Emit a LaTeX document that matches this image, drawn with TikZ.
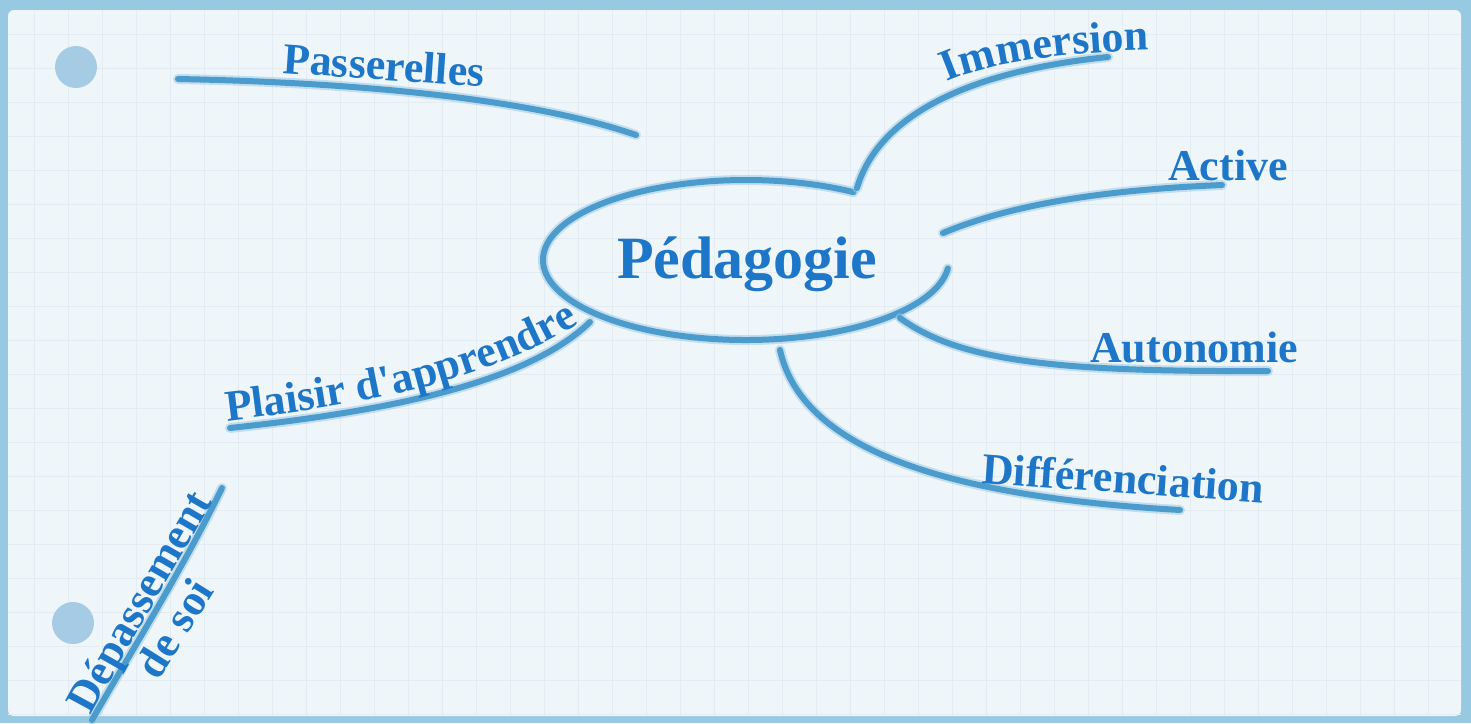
\documentclass[tikz,border=0pt]{standalone}
\usepackage{fontspec}
\setmainfont{Liberation Serif}[Ligatures=TeXOff]
\usetikzlibrary{decorations.text,shapes.geometric}
\definecolor{framec}{RGB}{152,201,227}
\definecolor{paperc}{RGB}{239,246,250}
\definecolor{gridc}{RGB}{226,236,242}
\definecolor{holec}{RGB}{165,204,228}
\definecolor{ink}{RGB}{30,118,200}
\definecolor{chalk}{RGB}{76,155,205}
\definecolor{chalklt}{RGB}{150,200,228}
\tikzset{
  lbl/.style={text=ink, font=\bfseries\fontsize{44}{50}\selectfont, inner sep=0pt},
  chalkline/.style={preaction={draw=chalklt, line width=10pt, line cap=round, opacity=0.5},
                    draw=chalk, line width=6pt, line cap=round},
  pathtext/.style={decorate, decoration={text along path, text align=left,
                    text={|\color{ink}\bfseries\fontsize{44}{50}\selectfont|#1}}},
}
\begin{document}
\begin{tikzpicture}[x=1pt,y=-1pt]
\useasboundingbox (0,0) rectangle (1471,723);
% frame and paper
\fill[framec] (0,0) rectangle (1471,723);
\fill[paperc, rounded corners=6pt] (8,10) rectangle (1461,716);
\begin{scope}
  \clip (8,10) rectangle (1461,716);
  \draw[gridc, line width=0.8pt] (8,10) grid[step=34pt] (1461,716);
\end{scope}
% holes
\fill[holec] (76,67) circle[radius=21];
\fill[holec] (73,623) circle[radius=21];

% centre
\node[anchor=base, text=ink, inner sep=0pt, font=\bfseries\fontsize{60}{66}\selectfont] (ped) at (747,278) {Pédagogie};
\coordinate (eTop) at (853.57,192.16);
\draw[chalkline] (eTop) arc[start angle=-58, end angle=-354, x radius=203, y radius=80] coordinate (eRight);

% Passerelles
\coordinate (pasA) at (178,79);
\coordinate (pasB) at (636,135);
\draw[chalkline] (pasA) .. controls (330,82) and (520,95) .. (pasB);
\node[lbl, anchor=base west, rotate=-4] (pas) at (282,73) {Passerelles};

% Immersion
\coordinate (immA) at (857,188);
\coordinate (immB) at (1108,57);
\draw[chalkline] (immA) .. controls (880,110) and (980,70) .. (immB);
\coordinate (immT1) at (947,82);
\coordinate (immT2) at (1175,50);
\path[pathtext=Immersion] (immT1) .. controls (992,62) and (1072,50) .. (immT2);

% Active
\coordinate (actA) at (943,233);
\coordinate (actB) at (1222,185);
\draw[chalkline] (actA) .. controls (1010,205) and (1100,190) .. (actB);
\node[lbl, anchor=base west] (act) at (1168,180) {Active};

% Autonomie
\coordinate (autA) at (900,318);
\coordinate (autB) at (1268,371);
\draw[chalkline] (autA) .. controls (960,362) and (1060,372) .. (autB);
\node[lbl, anchor=base west] (aut) at (1090,362) {Autonomie};

% Differenciation
\coordinate (difA) at (780,350);
\coordinate (difB) at (1180,510);
\draw[chalkline] (difA) .. controls (800,440) and (920,495) .. (difB);
\node[lbl, anchor=base west, rotate=-4] (dif) at (981,483) {Différenciation};

% Plaisir d'apprendre
\coordinate (plaA) at (230,428);
\coordinate (plaB) at (590,322);
\draw[chalkline] (plaA) .. controls (380,412) and (525,385) .. (plaB);
\coordinate (plaT1) at (227,421);
\coordinate (plaT2) at (612,302);
\path[pathtext={Plaisir d'apprendre}] (plaT1) .. controls (350,406) and (500,385) .. (plaT2);

% Depassement de soi
\coordinate (depA) at (92,720);
\coordinate (depB) at (222,488);
\draw[chalkline] (depA) .. controls (135,645) and (182,570) .. (depB);
\coordinate (depT1) at (91,716);
\coordinate (depT2) at (225,481);
\path[pathtext=Dépassement] (depT1) .. controls (130,643) and (175,568) .. (depT2);
\node[lbl, anchor=base, rotate=58] (soi) at (187,636) {de soi};
\end{tikzpicture}
\end{document}
